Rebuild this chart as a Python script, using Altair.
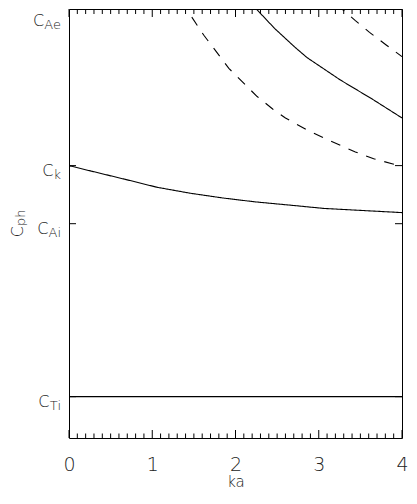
import altair as alt
import pandas as pd

# ---- data (phase speed in plot units) ----
C_AE = 434.0
C_K = 280.0
C_AI = 220.3
C_TI = 42.5

ka_lower = [0.0, 0.27, 0.67, 1.06, 1.45, 1.85, 2.24, 2.7, 3.06, 4.0]
c_lower = [280.0, 274.3, 266.0, 257.7, 251.7, 246.7, 242.7, 239.0, 236.0, 231.7]

ka_dash1 = [1.35, 1.41, 1.62, 1.92, 2.26, 2.45, 2.6, 2.85, 3.1, 3.44, 3.66, 3.88, 4.0]
c_dash1 = [449.0, 441.0, 414.0, 380.0, 351.0, 338.0, 329.0, 317.0, 307.0, 294.0, 287.0, 282.0, 279.0]

ka_upper = [2.2, 2.25, 2.47, 2.71, 2.86, 3.26, 3.65, 4.0]
c_upper = [446.0, 441.0, 421.0, 402.0, 391.0, 368.0, 348.0, 329.0]

ka_dash2 = [3.22, 3.28, 3.44, 3.61, 3.81, 4.0]
c_dash2 = [446.0, 441.0, 429.0, 417.0, 404.0, 392.0]

ka_ti = [0.0, 4.0]
c_ti = [C_TI, C_TI]

x_major = [0, 1, 2, 3, 4]
x_minor = [i / 10 for i in range(41) if i % 10]

y_label_vals = [C_AE, C_K, C_AI, C_TI]
y_label_subs = ["Ae", "k", "Ai", "Ti"]
y_tick_vals = [C_K, C_AI, C_TI]

# ---- layout ----
W, H = 333, 429
YMAX = 441
FONT = "DejaVu Sans"
TXT = "#222"

xscale = alt.Scale(domain=[0, 4], nice=False, zero=False)
yscale = alt.Scale(domain=[0, YMAX], nice=False, zero=False)


def series(name, style, ka, c):
    return pd.DataFrame({"series": name, "style": style, "ka": ka, "c": c})


lines_df = pd.concat([
    series("lower", "solid", ka_lower, c_lower),
    series("dash1", "dashed", ka_dash1, c_dash1),
    series("upper", "solid", ka_upper, c_upper),
    series("dash2", "dashed", ka_dash2, c_dash2),
    series("ti", "solid", ka_ti, c_ti),
], ignore_index=True)

lines = alt.Chart(lines_df).mark_line(clip=True, color="black", strokeWidth=1.1).encode(
    x=alt.X("ka:Q", scale=xscale, axis=alt.Axis(
        values=x_major, format="d", ticks=False, domain=False, grid=False,
        labelFlush=False, labelOverlap=False,
        labelFontSize=19, labelPadding=17, labelFont=FONT, labelColor=TXT,
        labelFontWeight=300,
        title="ka", titleFont=FONT, titleFontSize=15, titleFontWeight=300,
        titleColor=TXT, titleY=48, titleBaseline="alphabetic")),
    y=alt.Y("c:Q", scale=yscale, axis=None),
    detail="series:N",
    strokeDash=alt.StrokeDash("style:N", scale=alt.Scale(
        domain=["solid", "dashed"], range=[[1, 0], [10, 9]]), legend=None),
)

major_df = pd.DataFrame({"ka": x_major})
minor_df = pd.DataFrame({"ka": x_minor})


def xtick(df, y1, y2):
    return alt.Chart(df).mark_rule(color="black", strokeWidth=1).encode(
        x=alt.X("ka:Q", scale=xscale), y=alt.value(y1), y2=alt.value(y2))


ytick_df = pd.DataFrame({"c": y_tick_vals})


def ytick(x1, x2):
    return alt.Chart(ytick_df).mark_rule(color="black", strokeWidth=1).encode(
        y=alt.Y("c:Q", scale=yscale), x=alt.value(x1), x2=alt.value(x2))


layers = [lines,
          xtick(major_df, H, H - 8), xtick(minor_df, H, H - 4.5),
          xtick(major_df, 0, 8), xtick(minor_df, 0, 5),
          ytick(0, 7), ytick(W - 7, W)]

# glyph advance widths of DejaVu Sans (em units) for subscript placement
GW = {"A": 0.684, "e": 0.615, "k": 0.579, "i": 0.278, "T": 0.611}
SUB = 13
for val, sub in zip(y_label_vals, y_label_subs):
    w = sum(GW[ch] for ch in sub) * SUB
    d = pd.DataFrame({"c": [val]})
    layers.append(alt.Chart(d).mark_text(
        text="C", align="right", baseline="alphabetic", dy=10, fontSize=16,
        font=FONT, fontWeight=300, color=TXT).encode(
        y=alt.Y("c:Q", scale=yscale), x=alt.value(-8 - w)))
    layers.append(alt.Chart(d).mark_text(
        text=sub, align="right", baseline="alphabetic", dy=13, fontSize=SUB,
        font=FONT, fontWeight=300, color=TXT).encode(
        y=alt.Y("c:Q", scale=yscale), x=alt.value(-8)))

# y-axis title C_ph
layers.append(alt.Chart(pd.DataFrame({"c": [212.0]})).mark_text(
    text="C", angle=270, align="center", baseline="alphabetic", fontSize=16,
    font=FONT, fontWeight=300, color=TXT).encode(
    y=alt.Y("c:Q", scale=yscale), x=alt.value(-46)))
layers.append(alt.Chart(pd.DataFrame({"c": [226.5]})).mark_text(
    text="ph", angle=270, align="center", baseline="alphabetic", fontSize=13,
    font=FONT, fontWeight=300, color=TXT).encode(
    y=alt.Y("c:Q", scale=yscale), x=alt.value(-44)))

chart = alt.layer(*layers).properties(
    width=W, height=H,
    autosize=alt.AutoSizeParams(type="none"),
    padding={"left": 61, "top": 1, "right": 7, "bottom": 53},
).configure_view(stroke="black", strokeWidth=1)

chart.save("out.html", embed_options={"renderer": "svg", "actions": False})
